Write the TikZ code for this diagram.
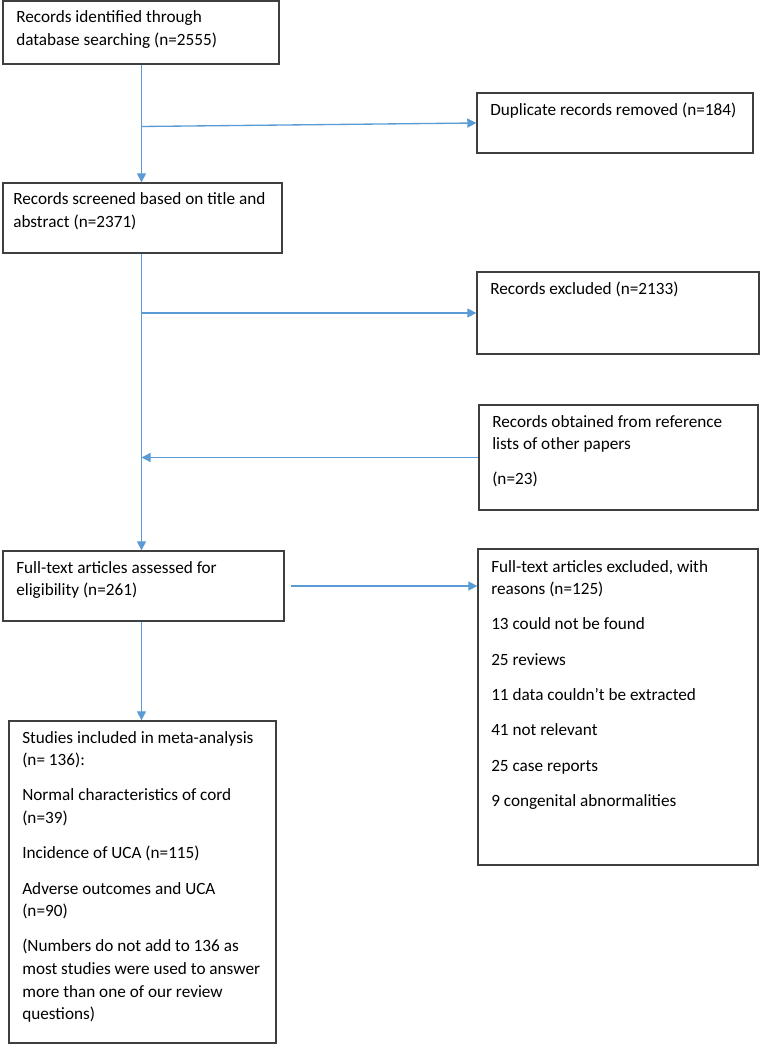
\documentclass[tikz,border=0pt]{standalone}
\usepackage{fontspec}
\setmainfont{Carlito}
\usetikzlibrary{arrows.meta,fit}
\definecolor{flow}{HTML}{5B9BD5}
\definecolor{edgegray}{HTML}{3F3F3F}
\newcommand{\boxtext}[1]{\parbox[t]{300pt}{\raggedright\fontsize{12.9pt}{16.9pt}\selectfont #1}}
\tikzset{
  box/.style={draw=edgegray, line width=1pt, inner sep=0pt},
  txt/.style={anchor=base west, inner sep=0pt},
  flowline/.style={draw=flow, line width=1pt},
  flowarrow/.style={flowline, -{Triangle[length=6.8pt,width=6.8pt]}},
}
\begin{document}
\begin{tikzpicture}[x=0.75pt,y=-0.75pt]
\useasboundingbox (0,0) rectangle (760,1044);
% boxes
\node[box, fit={(3,1) (279,64)}] (A) {};
\node[box, fit={(477,93) (753,153)}] (B) {};
\node[box, fit={(3,183) (282,253)}] (C) {};
\node[box, fit={(477,272) (759,354)}] (D) {};
\node[box, fit={(479,405) (758,510)}] (E) {};
\node[box, fit={(3,551) (284,621)}] (F) {};
\node[box, fit={(478,549) (758,865)}] (G) {};
\node[box, fit={(9,721) (276,1043)}] (H) {};
% texts
\node[txt] (tA) at (16,23) {\boxtext{Records identified through\\database searching (n=2555)}};
\node[txt] (tB) at (490,116) {\boxtext{Duplicate records removed (n=184)}};
\node[txt] (tC) at (13,205) {\boxtext{Records screened based on title and\\abstract (n=2371)}};
\node[txt] (tD) at (490,295) {\boxtext{Records excluded (n=2133)}};
\node[txt] (tE) at (492,427) {\boxtext{Records obtained from reference\\lists of other papers\\[9.6pt](n=23)}};
\node[txt] (tF) at (16,573) {\boxtext{Full-text articles assessed for\\eligibility (n=261)}};
\node[txt] (tG) at (491,572) {\boxtext{Full-text articles excluded, with\\reasons (n=125)\\[9.6pt]13 could not be found\\[9.6pt]25 reviews\\[9.6pt]11 data couldn’t be extracted\\[9.6pt]41 not relevant\\[9.6pt]25 case reports\\[9.6pt]9 congenital abnormalities}};
\node[txt] (tH) at (22,743) {\boxtext{Studies included in meta-analysis\\(n= 136):\\[9.6pt]Normal characteristics of cord\\(n=39)\\[9.6pt]Incidence of UCA (n=115)\\[9.6pt]Adverse outcomes and UCA\\(n=90)\\[9.6pt](Numbers do not add to 136 as\\most studies were used to answer\\more than one of our review\\questions)}};
% connectors
\coordinate (s1) at (141.5,126.5);
\coordinate (s2) at (141.5,313);
\coordinate (s3) at (291,586);
\coordinate (sx) at (141.5,0);
\draw[flowarrow] (A.south -| sx) -- (C.north -| sx);
\draw[flowarrow] (s1) -- (B.west);
\draw[flowarrow] (C.south -| sx) -- (F.north -| sx);
\draw[flowarrow] (s2) -- (D.west);
\draw[flowarrow] (E.west) -- (E.west -| sx);
\draw[flowarrow] (s3) -- (G.west |- s3);
\draw[flowarrow] (F.south -| sx) -- (H.north -| sx);
\end{tikzpicture}
\end{document}
